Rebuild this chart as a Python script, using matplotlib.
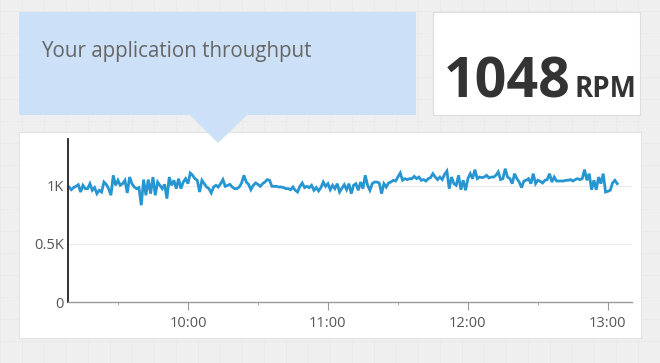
import numpy as np
import pandas as pd
import matplotlib
matplotlib.use("Agg")
import matplotlib.pyplot as plt
import matplotlib.dates as mdates
from matplotlib.patches import Rectangle, Polygon

# requests per minute, 9:09 -> 10:59
rpm_morning = [991, 968, 986, 997, 1011, 948, 1006, 977, 977, 1020,
               963, 986, 934, 963, 948, 1034, 1014, 977, 920, 1092,
               1006, 1049, 1006, 1020, 1049, 940, 1077, 1020, 991, 977,
               986, 834, 1055, 920, 1055, 934, 1077, 920, 1034, 1006,
               977, 1014, 891, 1077, 1006, 1049, 977, 1063, 977, 1034,
               1063, 1020, 1112, 1092, 1063, 1049, 948, 1049, 1020, 991,
               977, 940, 991, 1006, 991, 1020, 1055, 997, 1006, 1014,
               991, 977, 977, 991, 1026, 1092, 1034, 1014, 968, 1006,
               1026, 1014, 997, 1020, 1034, 1055, 1049, 997, 997, 997,
               991, 991, 986, 977, 977, 968, 991, 963, 948, 997,
               1026, 986, 997, 986, 1006, 963, 986, 957, 986, 1034,
               997]

# requests per minute, 11:00 -> 13:04
rpm_noon = [1020, 968, 1006, 977, 1020, 948, 980, 1011, 968, 1020,
            934, 1006, 1020, 963, 1034, 977, 1092, 1006, 963, 1020,
            1034, 1034, 1026, 934, 1020, 991, 1026, 1034, 1049, 1043,
            1077, 1112, 1049, 1063, 1055, 1063, 1063, 1083, 1063, 1077,
            1049, 1055, 1043, 1063, 1072, 1106, 1077, 1055, 1077, 1055,
            1100, 1129, 977, 1077, 1020, 1006, 1092, 968, 1049, 963,
            1063, 1106, 1063, 1141, 1063, 1077, 1072, 1077, 1092, 1070,
            1077, 1077, 1092, 1121, 1055, 1063, 1149, 1077, 1063, 1020,
            1106, 1063, 1034, 986, 1043, 1049, 1063, 1020, 1106, 1020,
            1050, 1040, 1026, 1049, 1055, 1106, 1034, 1077, 1043, 1043,
            1043, 1043, 1049, 1049, 1055, 1043, 1055, 1063, 1055, 1063,
            1141, 1049, 1106, 968, 1049, 968, 1077, 1020, 1106, 948,
            954, 963, 1026, 1049, 1020]

throughput = rpm_morning + rpm_noon
start_time = "2014-01-01 09:09"
current_rpm = "1048"
y_ticks = [0, 500, 1000]
y_labels = ["0", "0.5K", "1K"]

times = pd.date_range(start_time, periods=len(throughput), freq="min")

plt.rcParams['font.family'] = ['Open Sans', 'DejaVu Sans']

W, H = 660, 363
fig = plt.figure(figsize=(W / 100, H / 100), dpi=100)
fig.patch.set_facecolor("#efefef")


def px_rect(x0, y0, x1, y1, **kw):
    # pixel box (top-left origin) -> figure rectangle
    return Rectangle((x0 / W, 1 - y1 / H), (x1 - x0) / W, (y1 - y0) / H,
                     transform=fig.transFigure, **kw)


# faint background texture
for gx in range(0, W, 22):
    fig.add_artist(plt.Line2D([gx / W, gx / W], [0, 1], color="#e9e9e9", lw=0.5, zorder=0))
for gy in range(0, H, 22):
    fig.add_artist(plt.Line2D([0, 1], [gy / H, gy / H], color="#e9e9e9", lw=0.5, zorder=0))

# panels
fig.add_artist(px_rect(19, 132, 641, 338, facecolor="white", edgecolor="#e3e3e3", lw=0.8, zorder=1))
fig.add_artist(px_rect(433, 12, 640, 115, facecolor="white", edgecolor="#dddddd", lw=0.8, zorder=1))
fig.add_artist(px_rect(19, 12, 416, 115, facecolor="#cce0f7", edgecolor="none", zorder=3))
tri = [(190, 115), (247, 115), (218, 143)]
fig.add_artist(Polygon([(x / W, 1 - y / H) for x, y in tri], closed=True,
                       transform=fig.transFigure, facecolor="#cce0f7", edgecolor="none", zorder=3))

fig.text(41 / W, 1 - 57 / H, "Your application throughput", fontsize=14.8, color="#666666",
         va="baseline", ha="left", zorder=4)
fig.text(444 / W, 1 - 97 / H, current_rpm, fontsize=40, fontweight="bold", color="#333333",
         va="baseline", ha="left", zorder=4)
fig.text(636 / W, 1 - 97 / H, "RPM", fontsize=20, fontweight="bold", color="#333333",
         va="baseline", ha="right", zorder=4)

# chart
ax = fig.add_axes([68 / W, 1 - 302 / H, (632 - 68) / W, (302 - 139) / H], zorder=2)
ax.patch.set_visible(False)
ax.plot(times, throughput, color="#2696d2", lw=2.0, solid_joinstyle="miter")

ax.set_ylim(0, 1405)
ax.set_xlim(pd.Timestamp("2014-01-01 09:08:36"), pd.Timestamp("2014-01-01 13:10:20"))
ax.set_yticks(y_ticks)
ax.set_yticklabels(y_labels)
ax.tick_params(axis="y", length=0, pad=3, labelsize=10.5, labelcolor="#555555")
for v in y_ticks[1:]:
    ax.axhline(v, color="#ececec", lw=1, zorder=0)

ax.xaxis.set_major_locator(mdates.HourLocator())
ax.xaxis.set_minor_locator(mdates.MinuteLocator(byminute=30))
ax.xaxis.set_major_formatter(mdates.DateFormatter("%H:%M"))
ax.tick_params(axis="x", which="major", length=6, color="#999999", pad=4,
               labelsize=10.5, labelcolor="#555555")
ax.tick_params(axis="x", which="minor", length=2.5, color="#999999")

for s in ["top", "right"]:
    ax.spines[s].set_visible(False)
ax.spines["left"].set_color("#222222")
ax.spines["left"].set_linewidth(1.3)
ax.spines["bottom"].set_color("#999999")
ax.spines["bottom"].set_linewidth(1)

fig.savefig("out.png", dpi=100, facecolor=fig.get_facecolor())
